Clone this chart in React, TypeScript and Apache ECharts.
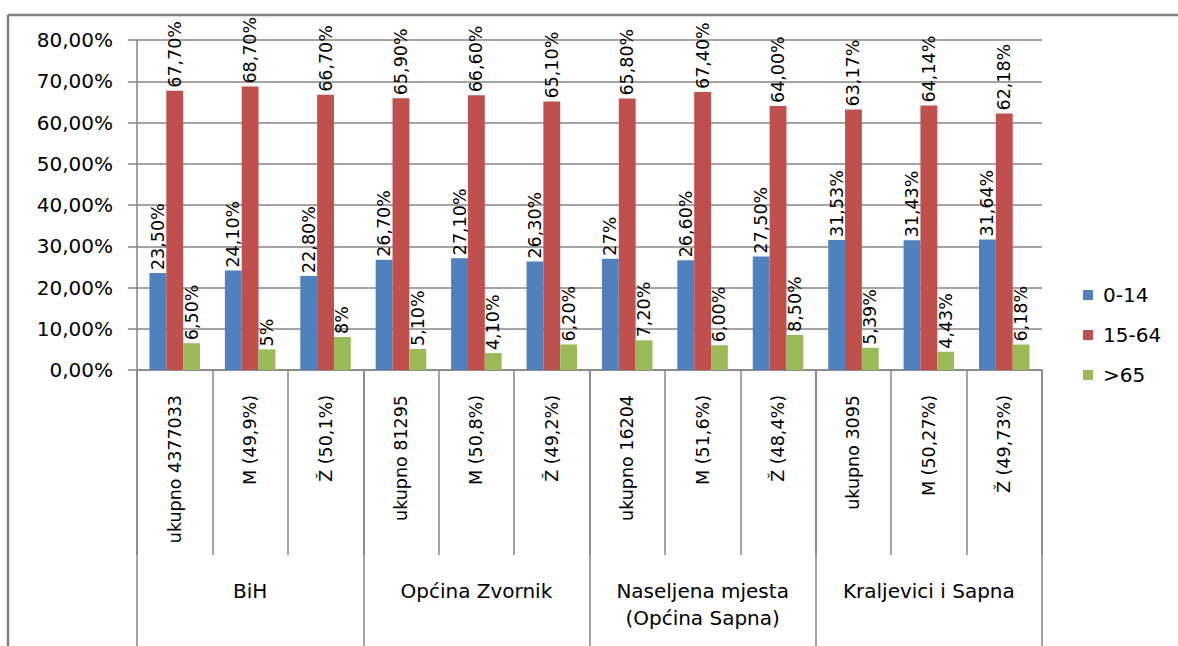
import React, { useEffect, useRef } from "react";
import * as echarts from "echarts";

const categories = [
  "ukupno 4377033", "M (49,9%)", "Ž (50,1%)",
  "ukupno 81295", "M (50,8%)", "Ž (49,2%)",
  "ukupno 16204", "M (51,6%)", "Ž (48,4%)",
  "ukupno 3095", "M (50,27%)", "Ž (49,73%)",
];
const groups = ["BiH", "Općina Zvornik", "Naseljena mjesta\n(Općina Sapna)", "Kraljevici i Sapna"];
const seriesNames = ["0-14", "15-64", ">65"];
const values014 = [23.5, 24.1, 22.8, 26.7, 27.1, 26.3, 27, 26.6, 27.5, 31.53, 31.43, 31.64];
const values1564 = [67.7, 68.7, 66.7, 65.9, 66.6, 65.1, 65.8, 67.4, 64.0, 63.17, 64.14, 62.18];
const values65 = [6.5, 5, 8, 5.1, 4.1, 6.2, 7.2, 6.0, 8.5, 5.39, 4.43, 6.18];
const labels014 = ["23,50%", "24,10%", "22,80%", "26,70%", "27,10%", "26,30%", "27%", "26,60%", "27,50%", "31,53%", "31,43%", "31,64%"];
const labels1564 = ["67,70%", "68,70%", "66,70%", "65,90%", "66,60%", "65,10%", "65,80%", "67,40%", "64,00%", "63,17%", "64,14%", "62,18%"];
const labels65 = ["6,50%", "5%", "8%", "5,10%", "4,10%", "6,20%", "7,20%", "6,00%", "8,50%", "5,39%", "4,43%", "6,18%"];
const colors = ["#4F81BD", "#C0504D", "#9BBB59"];

const FONT = "DejaVu Sans";
const GRAY = "#868686";

export default function App() {
  const ref = useRef<HTMLDivElement>(null);
  useEffect(() => {
    if (!ref.current) return;
    const chart = echarts.init(ref.current, undefined, { renderer: "svg" });
    const mk = (name: string, data: number[], labels: string[], color: string) => ({
      name,
      type: "bar",
      xAxisIndex: 0,
      data,
      barGap: "0%",
      barCategoryGap: "33%",
      itemStyle: { color },
      label: {
        show: true,
        position: "top",
        rotate: 90,
        align: "left",
        verticalAlign: "middle",
        distance: 3,
        fontFamily: FONT,
        fontSize: 17.5,
        color: "#000",
        formatter: (p: any) => labels[p.dataIndex],
      },
    });
    chart.setOption({
      animation: false,
      backgroundColor: "#fff",
      textStyle: { fontFamily: FONT },
      grid: { left: 137, top: 40, right: 136, bottom: 276, containLabel: false },
      legend: {
        orient: "vertical",
        left: 1083,
        top: 285,
        padding: 0,
        itemWidth: 10,
        itemHeight: 10,
        itemGap: 20,
        icon: "rect",
        data: seriesNames,
        textStyle: { fontFamily: FONT, fontSize: 20, color: "#000", lineHeight: 20, padding: [0, 0, 0, 5] },
      },
      xAxis: [
        {
          type: "category",
          data: categories,
          position: "bottom",
          axisLine: { show: true, lineStyle: { color: GRAY, width: 1.5 } },
          axisTick: { show: true, length: 185, lineStyle: { color: GRAY, width: 1.5 } },
          axisLabel: { rotate: 90, margin: 25, fontFamily: FONT, fontSize: 17.5, color: "#000" },
        },
        {
          type: "category",
          data: groups,
          position: "bottom",
          axisLine: { show: false },
          axisTick: { show: true, length: 280, lineStyle: { color: GRAY, width: 1.5 } },
          axisLabel: { margin: 207, fontFamily: FONT, fontSize: 20, lineHeight: 27, color: "#000" },
        },
      ],
      yAxis: {
        type: "value",
        min: 0,
        max: 80,
        interval: 10,
        axisLine: { show: true, lineStyle: { color: GRAY, width: 1.5 } },
        axisTick: { show: true, length: 9, lineStyle: { color: GRAY, width: 1.5 } },
        splitLine: { show: true, lineStyle: { color: GRAY, width: 1.5 } },
        axisLabel: {
          margin: 24,
          fontFamily: FONT,
          fontSize: 20,
          color: "#000",
          formatter: (v: number) => v.toFixed(2).replace(".", ",") + "%",
        },
      },
      series: [
        mk(seriesNames[0], values014, labels014, colors[0]),
        mk(seriesNames[1], values1564, labels1564, colors[1]),
        mk(seriesNames[2], values65, labels65, colors[2]),
      ],
      graphic: [
        { type: "line", shape: { x1: 8, y1: 15, x2: 1178, y2: 15 }, style: { stroke: "#7f7f7f", lineWidth: 2.5 } },
        { type: "line", shape: { x1: 8, y1: 15, x2: 8, y2: 646 }, style: { stroke: "#7f7f7f", lineWidth: 2.5 } },
      ],
    });
    return () => chart.dispose();
  }, []);
  return (
    <div
      ref={ref}
      style={{ position: "fixed", left: 0, top: 0, width: 1178, height: 646 }}
    />
  );
}
